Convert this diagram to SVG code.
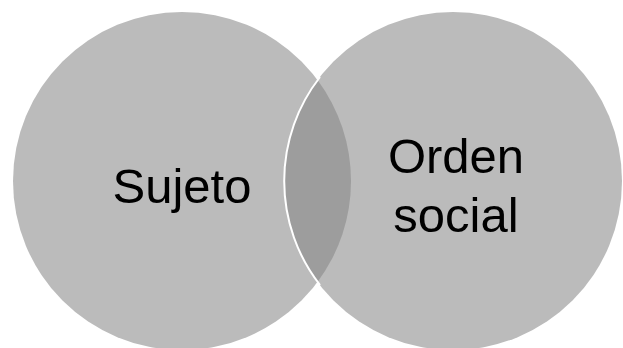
<svg xmlns="http://www.w3.org/2000/svg" width="623" height="348" viewBox="0 0 623 348">
  <style>
    .c { fill: #bbbbbb; }
    .lens { fill: #9d9d9d; }
    .edge { fill: none; stroke: #ffffff; stroke-width: 2; }
    .t { font-family: "Liberation Sans", Arial, sans-serif; font-size: 49px; fill: #000000; text-anchor: middle; }
  </style>
  <rect width="623" height="348" fill="#ffffff"/>
  <g id="sujeto">
    <circle class="c" cx="182" cy="181" r="169"/>
  </g>
  <g id="orden-social">
    <circle class="c" cx="453" cy="181" r="169"/>
  </g>
  <g id="interseccion">
    <path class="lens" d="M317.5 80 A169 169 0 0 1 317.5 282 A169 169 0 0 1 317.5 80 Z"/>
    <path class="edge" d="M320 77 A169 169 0 0 0 320 285"/>
  </g>
  <g id="labels">
    <text class="t" x="182" y="203">Sujeto</text>
    <text class="t" x="456" y="173">Orden</text>
    <text class="t" x="456" y="232">social</text>
  </g>
</svg>
